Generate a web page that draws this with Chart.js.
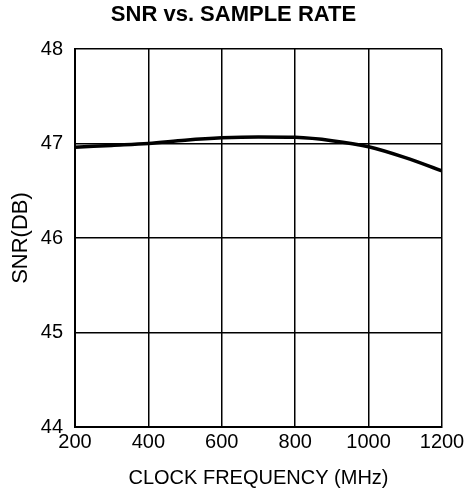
<!DOCTYPE html>
<html>
<head>
<meta charset="utf-8">
<script src="https://cdn.jsdelivr.net/npm/chart.js@4/dist/chart.umd.min.js"></script>
<style>
  html, body { margin: 0; padding: 0; background: #fff; }
  #wrap { width: 467px; height: 498px; }
</style>
</head>
<body>
<div id="wrap"><canvas id="myChart"></canvas></div>
<script>
// clock frequency (MHz) and SNR (dB)
const clockFreq = [200, 300, 400, 500, 600, 700, 800, 900, 1000, 1100, 1200];
const snrDb = [46.96, 46.98, 47.0, 47.035, 47.06, 47.07, 47.065, 47.03, 46.965, 46.85, 46.71];

const xTicks = [200, 400, 600, 800, 1000, 1200];
const yTicks = [44, 45, 46, 47, 48];

const points = clockFreq.map((f, i) => ({ x: f, y: snrDb[i] }));

const fontFamily = 'Liberation Sans, Arial, sans-serif';

const ctx = document.getElementById('myChart').getContext('2d');

const myChart = new Chart(ctx, {
    type: 'line',
    data: {
        datasets: [{
            label: 'SNR',
            data: points,
            borderColor: '#000',
            borderWidth: 3.5,
            pointRadius: 0,
            fill: false,
            cubicInterpolationMode: 'monotone',
        }],
    },
    options: {
        responsive: true,
        maintainAspectRatio: false,
        animation: false,
        layout: { padding: 0 },
        plugins: {
            legend: { display: false },
            tooltip: { enabled: false },
            title: {
                display: true,
                text: 'SNR vs. SAMPLE RATE',
                color: '#000',
                font: { family: fontFamily, size: 22, weight: 'bold' },
                padding: { top: 2, bottom: 20.6 },
            },
        },
        scales: {
            x: {
                type: 'linear',
                min: xTicks[0],
                max: xTicks[xTicks.length - 1],
                afterBuildTicks: (s) => { s.ticks = xTicks.map(v => ({ value: v })); },
                // keep the plot's right edge at 442 without shifting the title
                afterFit: (s) => { s.height = 71; s.paddingLeft = 0; s.paddingRight = 25; },
                ticks: {
                    color: '#000',
                    padding: 3,
                    font: { family: fontFamily, size: 20 },
                    callback: (v) => String(v),
                },
                grid: { color: '#000', lineWidth: 1.5, drawTicks: false },
                border: { color: '#000', width: 2 },
                title: {
                    display: true,
                    text: 'CLOCK FREQUENCY (MHz)',
                    color: '#000',
                    font: { family: fontFamily, size: 20 },
                    padding: { top: 0, bottom: 8 },
                },
            },
            y: {
                min: yTicks[0],
                max: yTicks[yTicks.length - 1],
                afterBuildTicks: (s) => { s.ticks = yTicks.map(v => ({ value: v })); },
                afterFit: (s) => { s.width = 75; },
                ticks: {
                    color: '#000',
                    padding: 12,
                    font: { family: fontFamily, size: 20 },
                },
                grid: { color: '#000', lineWidth: 1.5, drawTicks: false },
                border: { color: '#000', width: 2 },
                title: {
                    display: true,
                    text: 'SNR(DB)',
                    color: '#000',
                    font: { family: fontFamily, size: 22 },
                    padding: { top: 8, bottom: 0 },
                },
            },
        },
    },
});
</script>
</body>
</html>
